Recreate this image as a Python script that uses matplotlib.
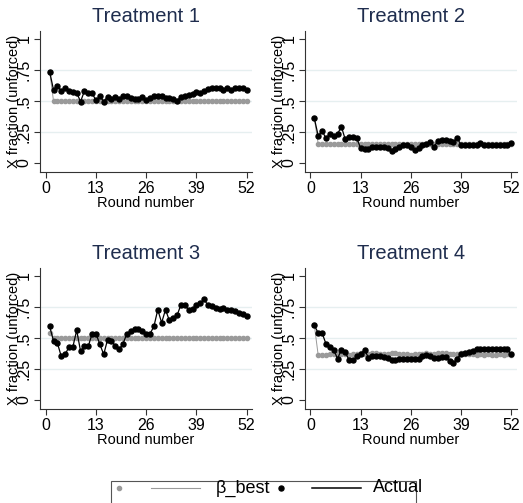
import matplotlib
matplotlib.use("Agg")
import matplotlib.pyplot as plt
from matplotlib.lines import Line2D
from matplotlib.patches import Rectangle
import numpy as np

plt.rcParams['font.family'] = ['Liberation Sans', 'DejaVu Sans']

rounds = list(range(1, 53))
titles = ["Treatment 1", "Treatment 2", "Treatment 3", "Treatment 4"]
x_ticks = [0, 13, 26, 39, 52]
y_ticks = [0, 0.25, 0.5, 0.75, 1]
y_ticklabels = ["0", ".25", ".5", ".75", "1"]
grid_levels = [0.25, 0.5, 0.75]

actual_t1 = [0.737, 0.589, 0.624, 0.583, 0.602, 0.583, 0.573, 0.567, 0.495, 0.58,
             0.562, 0.562, 0.505, 0.54, 0.495, 0.535, 0.516, 0.535, 0.519, 0.54,
             0.54, 0.527, 0.519, 0.519, 0.535, 0.505, 0.521, 0.54, 0.54, 0.54,
             0.524, 0.524, 0.513, 0.503, 0.535, 0.54, 0.551, 0.556, 0.573, 0.567,
             0.58, 0.594, 0.605, 0.605, 0.605, 0.589, 0.605, 0.589, 0.605, 0.605,
             0.605, 0.589]
best_t1 = [0.737] + [0.5] * 51

actual_t2 = [0.36, 0.218, 0.26, 0.199, 0.234, 0.218, 0.234, 0.293, 0.19, 0.207,
             0.207, 0.199, 0.118, 0.113, 0.11, 0.127, 0.127, 0.127, 0.13, 0.118,
             0.097, 0.11, 0.127, 0.145, 0.145, 0.127, 0.105, 0.118, 0.145, 0.15,
             0.166, 0.13, 0.18, 0.188, 0.188, 0.18, 0.172, 0.2, 0.145, 0.145,
             0.145, 0.145, 0.145, 0.158, 0.145, 0.145, 0.145, 0.145, 0.145, 0.145,
             0.145, 0.164]
best_t2 = [0.36] + [0.153] * 51

actual_t3 = [0.594, 0.476, 0.46, 0.352, 0.368, 0.427, 0.427, 0.562, 0.395, 0.433,
             0.433, 0.535, 0.535, 0.449, 0.368, 0.487, 0.476, 0.438, 0.409, 0.454,
             0.535, 0.556, 0.57, 0.57, 0.556, 0.535, 0.535, 0.594, 0.728, 0.624,
             0.728, 0.642, 0.661, 0.683, 0.769, 0.769, 0.723, 0.731, 0.763, 0.782,
             0.812, 0.763, 0.755, 0.745, 0.731, 0.745, 0.728, 0.728, 0.715, 0.70,
             0.69, 0.677]
best_t3 = [0.543] + [0.5] * 51

actual_t4 = [0.602, 0.54, 0.54, 0.454, 0.427, 0.406, 0.333, 0.406, 0.387, 0.32,
             0.32, 0.352, 0.368, 0.406, 0.341, 0.352, 0.352, 0.352, 0.347, 0.341,
             0.32, 0.32, 0.333, 0.333, 0.333, 0.333, 0.333, 0.333, 0.352, 0.36,
             0.352, 0.341, 0.341, 0.347, 0.347, 0.315, 0.298, 0.333, 0.374, 0.379,
             0.387, 0.392, 0.409, 0.409, 0.409, 0.409, 0.409, 0.409, 0.409, 0.409,
             0.409, 0.368]
best_t4 = [0.602, 0.36, 0.365, 0.365, 0.37, 0.37, 0.37, 0.37, 0.37, 0.365,
           0.37, 0.37, 0.375, 0.37, 0.37, 0.375, 0.375, 0.37, 0.37, 0.37,
           0.38, 0.375, 0.37, 0.37, 0.37, 0.365, 0.37, 0.37, 0.37, 0.375,
           0.37, 0.37, 0.375, 0.38, 0.375, 0.37, 0.37, 0.37, 0.375, 0.37,
           0.37, 0.37, 0.365, 0.37, 0.365, 0.37, 0.365, 0.365, 0.37, 0.365,
           0.37, 0.365]

actual_all = [actual_t1, actual_t2, actual_t3, actual_t4]
best_all = [best_t1, best_t2, best_t3, best_t4]

W, H = 523, 503
fig = plt.figure(figsize=(W / 100, H / 100), dpi=100)

title_color = '#1f2d4e'
gray = '#9a9a9a'
axis_color = '#333333'

# panel layout in pixels: left, top(of axes), width, height
layout = [(40, 31, 212, 141), (304.7, 31, 212, 141),
          (40, 268, 212, 141), (304.7, 268, 212, 141)]

for i, (l, t, w, h) in enumerate(layout):
    ax = fig.add_axes([l / W, 1 - (t + h) / H, w / W, h / H])
    for g in grid_levels:
        ax.axhline(g, color='#e6eff0', lw=1.0, zorder=0)
    ax.plot(rounds, best_all[i], color=gray, lw=0.7, marker='o', ms=3.0,
            mec=gray, mfc=gray, zorder=2)
    ax.plot(rounds, actual_all[i], color='black', lw=0.9, marker='o', ms=3.6,
            mec='black', mfc='black', zorder=3)
    ax.set_xlim(-1.5, 53.4)
    ax.set_ylim(-0.073, 1.065)
    ax.set_xticks(x_ticks)
    ax.set_yticks(y_ticks)
    ax.set_yticklabels(y_ticklabels)
    for s in ['top', 'right']:
        ax.spines[s].set_visible(False)
    for s in ['left', 'bottom']:
        ax.spines[s].set_color(axis_color)
        ax.spines[s].set_linewidth(0.8)
    ax.tick_params(axis='both', colors=axis_color, length=4.5, width=0.8,
                   labelcolor='black', labelsize=11.5, pad=2)
    ax.tick_params(axis='y', labelrotation=90, pad=1.5)
    for lab in ax.get_yticklabels():
        lab.set_va('center')
    ax.set_xlabel("Round number", fontsize=10.5, labelpad=0)
    ax.set_ylabel("X fraction (unforced)", fontsize=10.5)
    ax.yaxis.set_label_coords(-0.09, 0.5)
    ax.set_title(titles[i], fontsize=14.5, color=title_color, pad=6.5)

# legend (manual, Stata-like)
def fx(px):
    return px / W

def fy(py):
    return 1 - py / H

ly = fy(488)
fig.add_artist(Rectangle((fx(110.7), fy(530)), fx(416) - fx(110.7), fy(481) - fy(530),
                         transform=fig.transFigure, fill=False, ec='#555555', lw=0.8))
fig.add_artist(Line2D([fx(119)], [ly], marker='o', ms=3.0, color=gray, lw=0,
                      transform=fig.transFigure))
fig.add_artist(Line2D([fx(151), fx(200)], [ly, ly], color=gray, lw=0.8,
                      transform=fig.transFigure))
fig.text(fx(216), ly, "β_best", fontsize=13, va='center', ha='left')
fig.add_artist(Line2D([fx(281)], [ly], marker='o', ms=3.6, color='black', lw=0,
                      transform=fig.transFigure))
fig.add_artist(Line2D([fx(312), fx(361)], [ly, ly], color='black', lw=1.1,
                      transform=fig.transFigure))
fig.text(fx(372.5), ly, "Actual", fontsize=13, va='center', ha='left')

fig.savefig("out.png", dpi=100)
